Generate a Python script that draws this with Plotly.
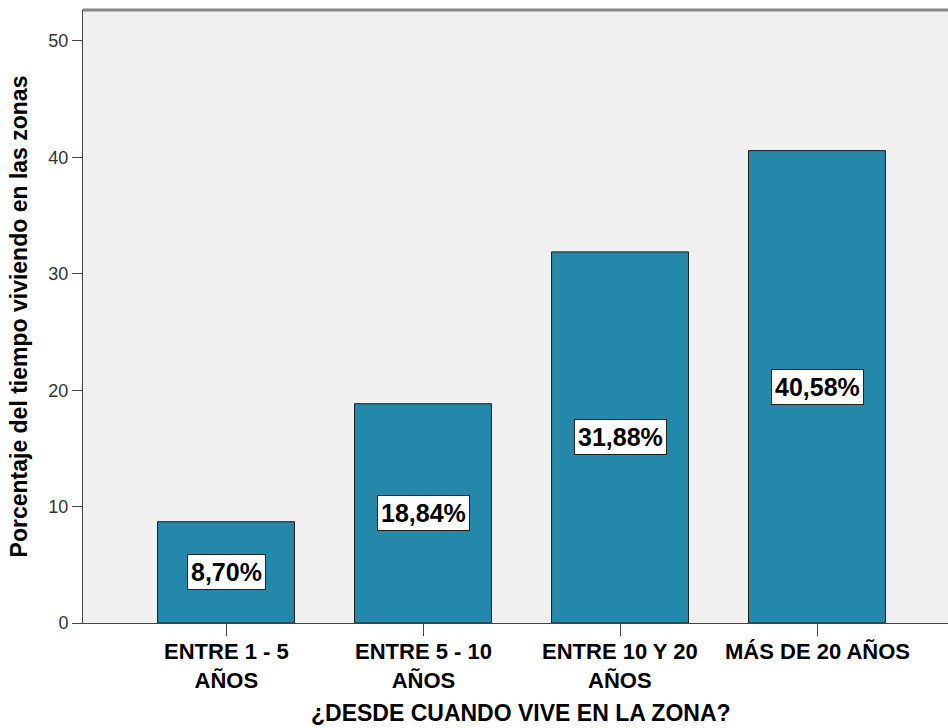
import plotly.graph_objects as go

categories = ["ENTRE 1 - 5\nAÑOS", "ENTRE 5 - 10\nAÑOS", "ENTRE 10 Y 20\nAÑOS", "MÁS DE 20 AÑOS"]
percentages = [8.70, 18.84, 31.88, 40.58]
y_ticks = [0, 10, 20, 30, 40, 50]
x_title = "¿DESDE CUANDO VIVE EN LA ZONA?"
y_title = "Porcentaje del tiempo viviendo en las zonas"

FONT = "Liberation Sans, Arial, sans-serif"
positions = list(range(len(categories)))

fig = go.Figure()
fig.add_trace(go.Bar(
    x=positions,
    y=percentages,
    width=0.695,
    marker=dict(color="#2388aa", line=dict(color="#1a1a1a", width=1)),
    hoverinfo="skip",
))

# value labels in white boxes, centred on each bar
for xp, v in zip(positions, percentages):
    fig.add_annotation(
        x=xp, y=v / 2, xref="x", yref="y",
        text="<b>" + f"{v:.2f}%".replace(".", ",") + "</b>",
        showarrow=False,
        font=dict(family=FONT, size=25, color="black"),
        bgcolor="white", bordercolor="#222", borderwidth=1, borderpad=3,
    )

# category labels under each tick
for xp, cat in zip(positions, categories):
    n_lines = len(cat.split("\n"))
    fig.add_annotation(
        x=xp, y=0, xref="x", yref="paper",
        text="<b>" + cat.replace("\n", "<br>") + "</b>", showarrow=False,
        yanchor="top", yshift=-14 if n_lines > 1 else -14,
        font=dict(family=FONT, size=22, color="black"),
    )

fig.add_annotation(
    x=0.5, y=0, xref="paper", yref="paper",
    text=f"<b>{x_title}</b>", showarrow=False,
    yanchor="middle", xanchor="center", yshift=-90, xshift=5,
    font=dict(family=FONT, size=23, color="black"),
)

fig.update_layout(
    width=948, height=728,
    margin=dict(l=83, r=0, t=10, b=105),
    paper_bgcolor="white",
    plot_bgcolor="#f0f0f0",
    showlegend=False,
    font=dict(family=FONT),
    xaxis=dict(
        range=[-0.726, 3.665],
        tickvals=positions, ticktext=["" for _ in categories],
        ticks="outside", ticklen=12, tickcolor="#444", tickwidth=1,
        showline=True, linecolor="#444", linewidth=1,
        showgrid=False, zeroline=False,
    ),
    yaxis=dict(
        range=[0, 52.66],
        tickvals=y_ticks,
        tickfont=dict(family=FONT, size=18, color="#333"),
        ticks="outside", ticklen=10, tickcolor="#444", tickwidth=1,
        showline=True, linecolor="#444", linewidth=1,
        showgrid=False, zeroline=False,
        title=dict(text=f"<b>{y_title}</b>",
                   font=dict(family=FONT, size=23, color="black"), standoff=14),
    ),
)

# grey frame line along the top of the plot area
fig.add_shape(type="line", xref="paper", yref="paper", x0=0, x1=1, y0=1, y1=1,
              line=dict(color="#888888", width=3))

fig.write_html("out.html")
